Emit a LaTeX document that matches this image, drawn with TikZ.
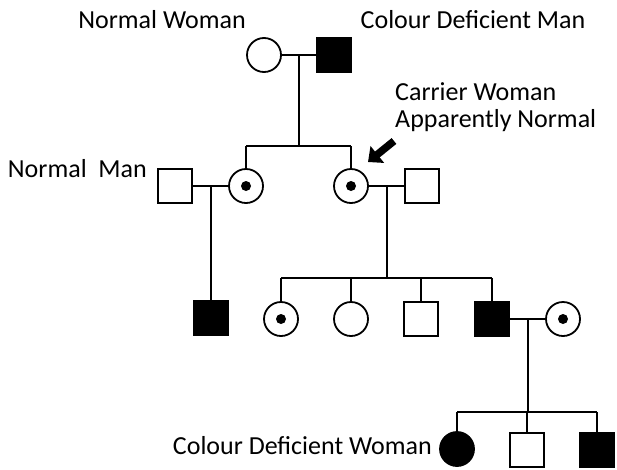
\documentclass[tikz,border=0pt]{standalone}
\usepackage{fontspec}
\setmainfont{Carlito}
\usetikzlibrary{arrows.meta}
\tikzset{
  lw/.style={line width=1.8pt},
  female/.style={circle, draw, lw, minimum size=34pt, inner sep=0pt, fill=white},
  male/.style={rectangle, draw, lw, minimum size=34pt, inner sep=0pt, fill=white},
  affected/.style={fill=black},
  carrier/.style={female, path picture={\fill[black] (path picture bounding box.center) circle (5pt);}},
  link/.style={lw},
  lbl/.style={font=\fontsize{26}{31}\selectfont, inner sep=0pt},
  pointer/.style={line width=7.5pt, -{Triangle[length=12pt,width=21pt]}}
}
\begin{document}
\begin{tikzpicture}[x=1pt,y=-1pt]
\useasboundingbox (0,0) rectangle (617,469);
% generation 1
\node[female] (g1w) at (264,55) {};
\node[male,affected] (g1m) at (334,55) {};
% generation 2
\node[male] (g2nm) at (175,186) {};
\node[carrier] (g2c1) at (246,186) {};
\node[carrier] (g2c2) at (351,186) {};
\node[male] (g2m) at (422,186) {};
% generation 3
\node[male,affected] (g3a) at (211,318) {};
\node[carrier] (g3b) at (281,319) {};
\node[female] (g3c) at (351,319) {};
\node[male] (g3d) at (421,319) {};
\node[male,affected] (g3e) at (492,319) {};
\node[carrier] (g3f) at (563,319) {};
% generation 4
\node[female,affected] (g4a) at (457,449) {};
\node[male] (g4b) at (527,450) {};
\node[male,affected] (g4c) at (597,450) {};
% coordinates
\coordinate (m1) at (299,55);
\coordinate (s1) at (299,146);
\coordinate (m2) at (211,186);
\coordinate (m3) at (387,186);
\coordinate (s3) at (387,278);
\coordinate (m4) at (528,319);
\coordinate (s4) at (528,412);
% connectors
\draw[link] (g1w) -- (g1m);
\draw[link] (m1) -- (s1);
\draw[link] (s1 -| g2c1) -- (s1 -| g2c2);
\draw[link] (s1 -| g2c1) -- (g2c1.north);
\draw[link] (s1 -| g2c2) -- (g2c2.north);
\draw[link] (g2nm) -- (g2c1);
\draw[link] (m2) -- (g3a.north);
\draw[link] (g2c2) -- (g2m);
\draw[link] (m3) -- (s3);
\draw[link] (s3 -| g3b) -- (s3 -| g3e);
\foreach \c in {g3b,g3c,g3d,g3e} \draw[link] (s3 -| \c) -- (\c.north);
\draw[link] (g3e) -- (g3f);
\draw[link] (m4) -- (s4);
\draw[link] (s4 -| g4a) -- (s4 -| g4c);
\foreach \c in {g4a,g4b,g4c} \draw[link] (s4 -| \c) -- (\c.north);
% labels
\node[lbl, anchor=base] (tNW) at (162,28) {Normal Woman};
\node[lbl, anchor=base] (tCDM) at (473,28) {Colour Deficient Man};
\node[lbl, anchor=base west] (tCW1) at (395,100) {Carrier Woman};
\node[lbl, anchor=base west] (tCW2) at (395,127) {Apparently Normal};
\node[lbl, anchor=base east] (tNM) at (147,177) {Normal\ \ Man};
\node[lbl, anchor=base east] (tCDW) at (432,454) {Colour Deficient Woman};
% arrow
\coordinate (atail) at (394,141);
\coordinate (ahead) at (368,162);
\draw[pointer] (atail) -- (ahead);
\end{tikzpicture}
\end{document}
